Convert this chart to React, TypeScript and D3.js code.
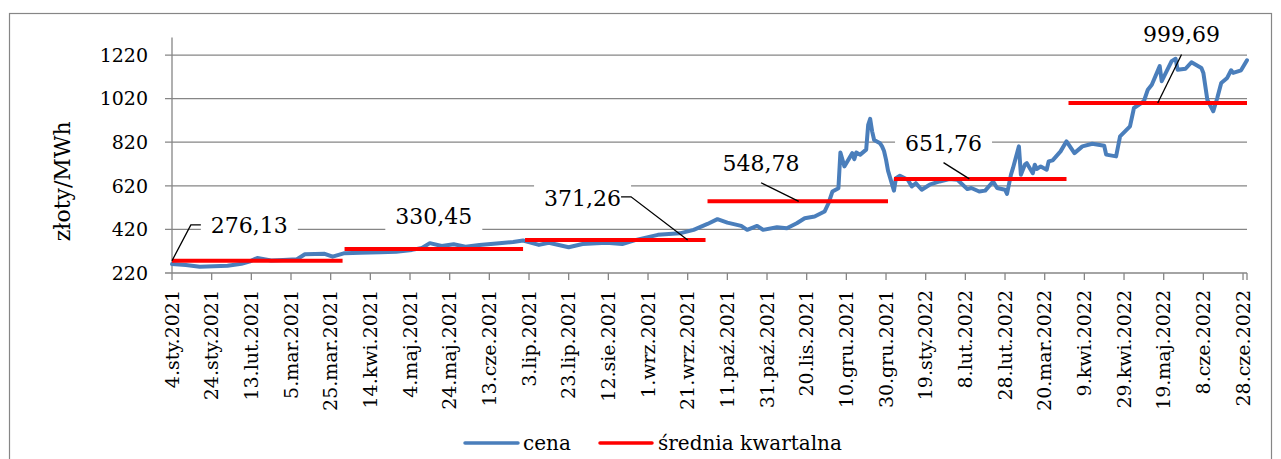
import React from "react";
import * as d3 from "d3";

// cena energii (złoty/MWh)
const priceDates = [
  "2021-01-04", "2021-01-11", "2021-01-18", "2021-01-25", "2021-02-01", "2021-02-08", "2021-02-12",
  "2021-02-16", "2021-02-23", "2021-03-01", "2021-03-08", "2021-03-12", "2021-03-22", "2021-03-26",
  "2021-04-01", "2021-04-09", "2021-04-19", "2021-04-27", "2021-05-05", "2021-05-10", "2021-05-14",
  "2021-05-20", "2021-05-26", "2021-06-01", "2021-06-08", "2021-06-18", "2021-06-25", "2021-06-30",
  "2021-07-08", "2021-07-13", "2021-07-23", "2021-07-30", "2021-08-11", "2021-08-19", "2021-08-26",
  "2021-09-06", "2021-09-17", "2021-09-24", "2021-10-01", "2021-10-06", "2021-10-11", "2021-10-18",
  "2021-10-21", "2021-10-26", "2021-10-29", "2021-11-05", "2021-11-10", "2021-11-15", "2021-11-19",
  "2021-11-24", "2021-11-29", "2021-12-01", "2021-12-03", "2021-12-06", "2021-12-07", "2021-12-09",
  "2021-12-13", "2021-12-14", "2021-12-15", "2021-12-17", "2021-12-20", "2021-12-21", "2021-12-22",
  "2021-12-23", "2021-12-24", "2021-12-27", "2021-12-28", "2021-12-29", "2021-12-30", "2021-12-31",
  "2022-01-03", "2022-01-04", "2022-01-06", "2022-01-10", "2022-01-12", "2022-01-14", "2022-01-17",
  "2022-01-21", "2022-01-26", "2022-01-31", "2022-02-04", "2022-02-09", "2022-02-11", "2022-02-15",
  "2022-02-18", "2022-02-22", "2022-02-24", "2022-02-28", "2022-03-01", "2022-03-03", "2022-03-04",
  "2022-03-07", "2022-03-08", "2022-03-10", "2022-03-11", "2022-03-14", "2022-03-15", "2022-03-16",
  "2022-03-18", "2022-03-21", "2022-03-22", "2022-03-24", "2022-03-28", "2022-03-31", "2022-04-04",
  "2022-04-08", "2022-04-13", "2022-04-19", "2022-04-20", "2022-04-25", "2022-04-27", "2022-05-02",
  "2022-05-04", "2022-05-09", "2022-05-11", "2022-05-13", "2022-05-17", "2022-05-18", "2022-05-23",
  "2022-05-25", "2022-05-26", "2022-05-30", "2022-06-02", "2022-06-07", "2022-06-08", "2022-06-10",
  "2022-06-13", "2022-06-15", "2022-06-17", "2022-06-20", "2022-06-22", "2022-06-23", "2022-06-27",
  "2022-06-30",
];
const priceValues = [
  261, 257, 249, 251, 253, 262, 272,
  289, 277, 280, 283, 306, 308, 295,
  311, 313, 315, 318, 326, 335, 357,
  344, 352, 341, 349, 357, 362, 369,
  349, 359, 338, 353, 359, 353, 372,
  395, 402, 418, 445, 467, 451, 436,
  418, 436, 418, 430, 425, 448, 471,
  479, 502, 540, 594, 609, 773, 709,
  770, 742, 773, 763, 786, 900, 927,
  870, 830, 815, 801, 780, 740, 690,
  598, 655, 666, 648, 617, 632, 602,
  625, 640, 651, 648, 605, 610, 594,
  598, 640, 610, 602, 583, 671, 701,
  801, 671, 717, 724, 678, 717, 697,
  709, 694, 732, 737, 778, 824, 770,
  801, 813, 804, 763, 755, 847, 893,
  977, 1008, 1061, 1084, 1169, 1100, 1192,
  1203, 1153, 1157, 1187, 1161, 1138, 1015,
  962, 1023, 1092, 1115, 1150, 1138, 1150,
  1196,
];

// średnie kwartalne
const quarterStarts = ["2021-01-04", "2021-04-01", "2021-07-01", "2021-10-01", "2022-01-03", "2022-04-01"];
const quarterEnds = ["2021-03-31", "2021-06-30", "2021-09-30", "2021-12-31", "2022-03-31", "2022-06-30"];
const quarterAvg = [276.13, 330.45, 371.26, 548.78, 651.76, 999.69];
const quarterLabels = ["276,13", "330,45", "371,26", "548,78", "651,76", "999,69"];
// gdzie stoi etykieta (data, wartość) i do którego punktu prowadzi linia
const labelDates = ["2021-02-12", "2021-05-16", "2021-07-30", "2021-10-28", "2022-01-28", "2022-05-28"];
const labelValues = [441, 482, 565, 726, 818, 1314];
const leaderDates = ["2021-01-04", null, "2021-09-21", "2021-11-16", "2022-02-10", "2022-05-16"];
const leaderKind = ["left", "none", "right", "bottom", "bottom", "bottom"];

const tickLabels = [
  "4.sty.2021", "24.sty.2021", "13.lut.2021", "5.mar.2021", "25.mar.2021", "14.kwi.2021", "4.maj.2021",
  "24.maj.2021", "13.cze.2021", "3.lip.2021", "23.lip.2021", "12.sie.2021", "1.wrz.2021", "21.wrz.2021",
  "11.paź.2021", "31.paź.2021", "20.lis.2021", "10.gru.2021", "30.gru.2021", "19.sty.2022", "8.lut.2022",
  "28.lut.2022", "20.mar.2022", "9.kwi.2022", "29.kwi.2022", "19.maj.2022", "8.cze.2022", "28.cze.2022",
];
const yTicks = [220, 420, 620, 820, 1020, 1220];

const parse = d3.utcParse("%Y-%m-%d");
const FONT = "DejaVu Serif";
const GRID = "#868686";

const App = () => {
  const width = 1281;
  const height = 459;
  const plot = { left: 172, right: 1247, top: 37.6, bottom: 273 };

  const start = parse("2021-01-04") as Date;
  const x = d3
    .scaleUtc()
    .domain([start, parse("2022-06-30") as Date])
    .range([plot.left, plot.right]);
  const y = d3.scaleLinear().domain([220, 1300]).range([plot.bottom, plot.top]);

  const price = priceDates.map((d, i) => ({ date: parse(d) as Date, value: priceValues[i] }));
  const line = d3
    .line<{ date: Date; value: number }>()
    .x((d) => x(d.date))
    .y((d) => y(d.value));

  const ticks = tickLabels.map((t, i) => ({ label: t, date: d3.utcDay.offset(start, 20 * i) }));

  const labelW = 97;
  const labelH = 36;

  return (
    <svg
      width={width}
      height={height}
      style={{ position: "absolute", left: 0, top: 0, background: "#fff" }}
    >
      <rect x={9.5} y={13.5} width={1262} height={470} fill="#fff" stroke={GRID} strokeWidth={1.2} />

      {/* siatka */}
      {yTicks.map((t) => (
        <g key={t}>
          <line x1={plot.left - 7} x2={plot.right} y1={y(t)} y2={y(t)} stroke={GRID} strokeWidth={1.3} />
          <text
            x={plot.left - 24}
            y={y(t)}
            dy="0.36em"
            textAnchor="end"
            fontFamily={FONT}
            fontSize={19}
            fill="#000"
          >
            {t}
          </text>
        </g>
      ))}
      <line x1={plot.left} x2={plot.left} y1={plot.top} y2={plot.bottom} stroke={GRID} strokeWidth={1.3} />

      {/* oś X */}
      {ticks.map((t) => (
        <g key={t.label}>
          <line x1={x(t.date)} x2={x(t.date)} y1={plot.bottom} y2={plot.bottom + 7} stroke={GRID} strokeWidth={1.3} />
          <text
            transform={`translate(${x(t.date)},${plot.bottom + 17}) rotate(-90)`}
            dy="0.35em"
            textAnchor="end"
            fontFamily={FONT}
            fontSize={19}
            fill="#000"
          >
            {t.label}
          </text>
        </g>
      ))}
      <line x1={plot.right} x2={plot.right} y1={plot.bottom} y2={plot.bottom + 7} stroke={GRID} strokeWidth={1.3} />

      <text
        transform={`translate(62,${(plot.top + plot.bottom) / 2 + 26}) rotate(-90)`}
        dy="0.35em"
        textAnchor="middle"
        fontFamily={FONT}
        fontSize={22}
        fill="#000"
      >
        złoty/MWh
      </text>

      {/* etykiety - tło zakrywa siatkę */}
      {quarterLabels.map((l, i) => {
        const cx = x(parse(labelDates[i]) as Date);
        const cy = y(labelValues[i]);
        return (
          <rect key={"bg" + l} x={cx - labelW / 2} y={cy - labelH / 2} width={labelW} height={labelH} fill="#fff" />
        );
      })}

      {/* cena */}
      <path
        d={line(price) || ""}
        fill="none"
        stroke="#4a7ebb"
        strokeWidth={4}
        strokeLinejoin="round"
        strokeLinecap="round"
      />

      {/* średnia kwartalna */}
      {quarterAvg.map((v, i) => (
        <line
          key={"q" + i}
          x1={x(parse(quarterStarts[i]) as Date)}
          x2={x(parse(quarterEnds[i]) as Date)}
          y1={y(v)}
          y2={y(v)}
          stroke="#ff0000"
          strokeWidth={4}
        />
      ))}

      {quarterLabels.map((l, i) => {
        const cx = x(parse(labelDates[i]) as Date);
        const cy = y(labelValues[i]);
        let pts: [number, number][] = [];
        if (leaderKind[i] !== "none") {
          const ax = x(parse(leaderDates[i] as string) as Date);
          const ay = y(quarterAvg[i]);
          if (leaderKind[i] === "left") {
            const ex = cx - labelW / 2;
            pts = [[ex, cy], [ex - 10, cy], [ax, ay]];
          } else if (leaderKind[i] === "right") {
            const ex = cx + labelW / 2 - 10;
            pts = [[ex, cy - 1], [ex + 10, cy - 1], [ax, ay]];
          } else {
            pts = [[cx, cy + labelH / 2 + 2], [ax, ay]];
          }
        }
        return (
          <g key={l}>
            {pts.length > 0 && (
              <path d={d3.line()(pts) || ""} fill="none" stroke="#000" strokeWidth={1.3} />
            )}
            <text x={cx} y={cy} dy="0.36em" textAnchor="middle" fontFamily={FONT} fontSize={22} fill="#000">
              {l}
            </text>
          </g>
        );
      })}

      {/* legenda */}
      <g fontFamily={FONT} fontSize={20} fill="#000">
        <line x1={465} x2={518} y1={443} y2={443} stroke="#4a7ebb" strokeWidth={3.5} strokeLinecap="round" />
        <text x={523} y={443} dy="0.33em">cena</text>
        <line x1={600} x2={652} y1={443} y2={443} stroke="#ff0000" strokeWidth={3.5} strokeLinecap="round" />
        <text x={658} y={443} dy="0.33em">średnia kwartalna</text>
      </g>
    </svg>
  );
};

export default App;
